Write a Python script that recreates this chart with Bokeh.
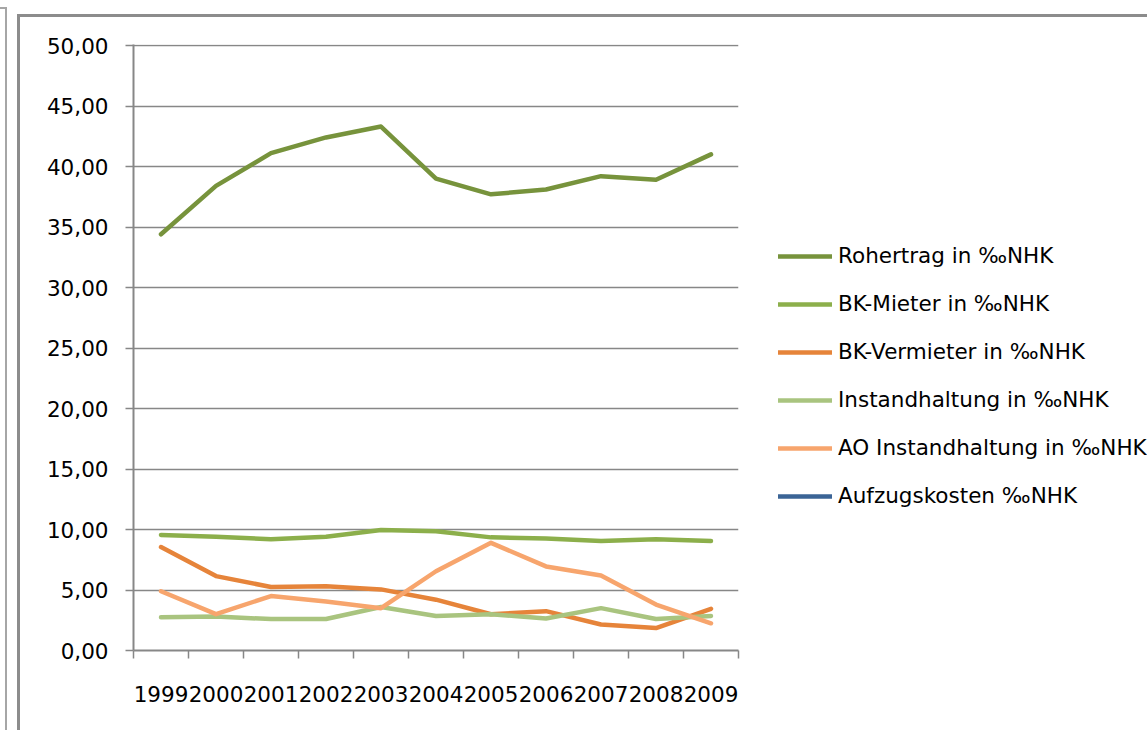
from bokeh.plotting import figure
from bokeh.models import (Range1d, FixedTicker, Legend, LegendItem, CustomJSTickFormatter)
from bokeh.embed import file_html
from bokeh.resources import INLINE

years = ["1999", "2000", "2001", "2002", "2003", "2004", "2005", "2006", "2007", "2008", "2009"]
rohertrag = [34.4, 38.4, 41.1, 42.4, 43.3, 39.0, 37.7, 38.1, 39.2, 38.9, 41.0]
bk_mieter = [9.55, 9.4, 9.2, 9.4, 9.95, 9.85, 9.35, 9.25, 9.05, 9.2, 9.05]
bk_vermieter = [8.55, 6.15, 5.25, 5.3, 5.05, 4.2, 3.0, 3.25, 2.15, 1.85, 3.45]
instandhaltung = [2.75, 2.8, 2.6, 2.6, 3.6, 2.85, 3.0, 2.65, 3.5, 2.6, 2.85]
ao_instandhaltung = [4.9, 3.0, 4.5, 4.05, 3.5, 6.55, 8.9, 6.95, 6.2, 3.8, 2.25]
aufzugskosten = [float("nan")] * 11

series_names = ["Rohertrag in \u2030NHK", "BK-Mieter in \u2030NHK", "BK-Vermieter in \u2030NHK",
                "Instandhaltung in \u2030NHK", "AO Instandhaltung in \u2030NHK", "Aufzugskosten \u2030NHK"]
series_values = [rohertrag, bk_mieter, bk_vermieter, instandhaltung, ao_instandhaltung, aufzugskosten]
series_colors = ["#77933C", "#8CAF4B", "#E6843A", "#A9C47F", "#F7A56D", "#3B6496"]
y_ticks = list(range(0, 51, 5))

FONT = "DejaVu Sans"
GRAY = "#878787"

W, H = 1147, 730
FL, FR, FT, FB = 133, 738, 44, 650
y_top = 50 * (FB - FT) / (FB - 45)

p = figure(frame_width=FR - FL, frame_height=FB - FT,
           x_range=Range1d(0, len(years)), y_range=Range1d(0, y_top),
           output_backend="svg", toolbar_location=None,
           min_border_left=FL, min_border_right=0, min_border_top=FT, min_border_bottom=H - FB)

# page frame lines drawn as CSS background behind a transparent border area
frame_lines = [
    # (x, y, w, h, color)
    (17, 14, W - 17, 3, "#8C8C8C"),
    (17, 14, 3, H - 14, "#8C8C8C"),
    (5, 7, 2, H - 7, "#A6A6A6"),
    (0, 7, 7, 2, "#A6A6A6"),
]
p.styles = {
    "position": "fixed", "left": "0px", "top": "0px",
    "background-color": "white",
    "background-image": ", ".join(f"linear-gradient({c}, {c})" for *_, c in frame_lines),
    "background-size": ", ".join(f"{w}px {h}px" for _, _, w, h, _ in frame_lines),
    "background-position": ", ".join(f"{x}px {y}px" for x, y, *_ in frame_lines),
    "background-repeat": "no-repeat",
}
p.outline_line_color = None
p.background_fill_color = "white"
p.border_fill_alpha = 0

xs = [i + 0.5 for i in range(len(years))]
renderers = []
for vals, col in zip(series_values, series_colors):
    r = p.line(xs, vals, line_color=col, line_width=4.5, line_join="round", line_cap="round")
    renderers.append(r)

p.xgrid.visible = False
p.ygrid.grid_line_color = GRAY
p.ygrid.grid_line_width = 1.5

yax = p.yaxis[0]
yax.ticker = FixedTicker(ticks=y_ticks)
yax.major_label_overrides = {v: f"{v},00" for v in y_ticks}
yax.axis_line_color = GRAY
yax.axis_line_width = 2
yax.major_tick_line_color = GRAY
yax.major_tick_line_width = 1.5
yax.major_tick_out = 8
yax.major_tick_in = 0
yax.minor_tick_line_color = None
yax.major_label_standoff = 17
yax.major_label_text_font = FONT
yax.major_label_text_font_size = "21.5px"
yax.major_label_text_color = "#000000"

xax = p.xaxis[0]
xax.ticker = FixedTicker(ticks=xs, minor_ticks=list(range(len(years) + 1)))
xax.formatter = CustomJSTickFormatter(args=dict(years=years),
                                      code="return years[Math.floor(tick)];")
xax.axis_line_color = GRAY
xax.axis_line_width = 2
xax.major_tick_line_color = None
xax.major_tick_out = 0
xax.major_tick_in = 0
xax.minor_tick_line_color = GRAY
xax.minor_tick_line_width = 1.5
xax.minor_tick_out = 8
xax.minor_tick_in = 0
xax.major_label_standoff = 27
xax.major_label_text_font = FONT
xax.major_label_text_font_size = "21.5px"
xax.major_label_text_color = "#000000"

legend = Legend(items=[LegendItem(label=n, renderers=[r]) for n, r in zip(series_names, renderers)],
                location=(778 - FR, FB - 508))
legend.border_line_color = None
legend.background_fill_alpha = 0
legend.padding = 0
legend.margin = 0
legend.glyph_width = 54
legend.glyph_height = 20
legend.label_standoff = 6
legend.spacing = 23
legend.label_height = 20
legend.label_text_font = FONT
legend.label_text_font_size = "21.5px"
legend.label_text_color = "#000000"
legend.label_text_baseline = "middle"
p.add_layout(legend, "right")

open("out.html", "w").write(file_html(p, INLINE))
